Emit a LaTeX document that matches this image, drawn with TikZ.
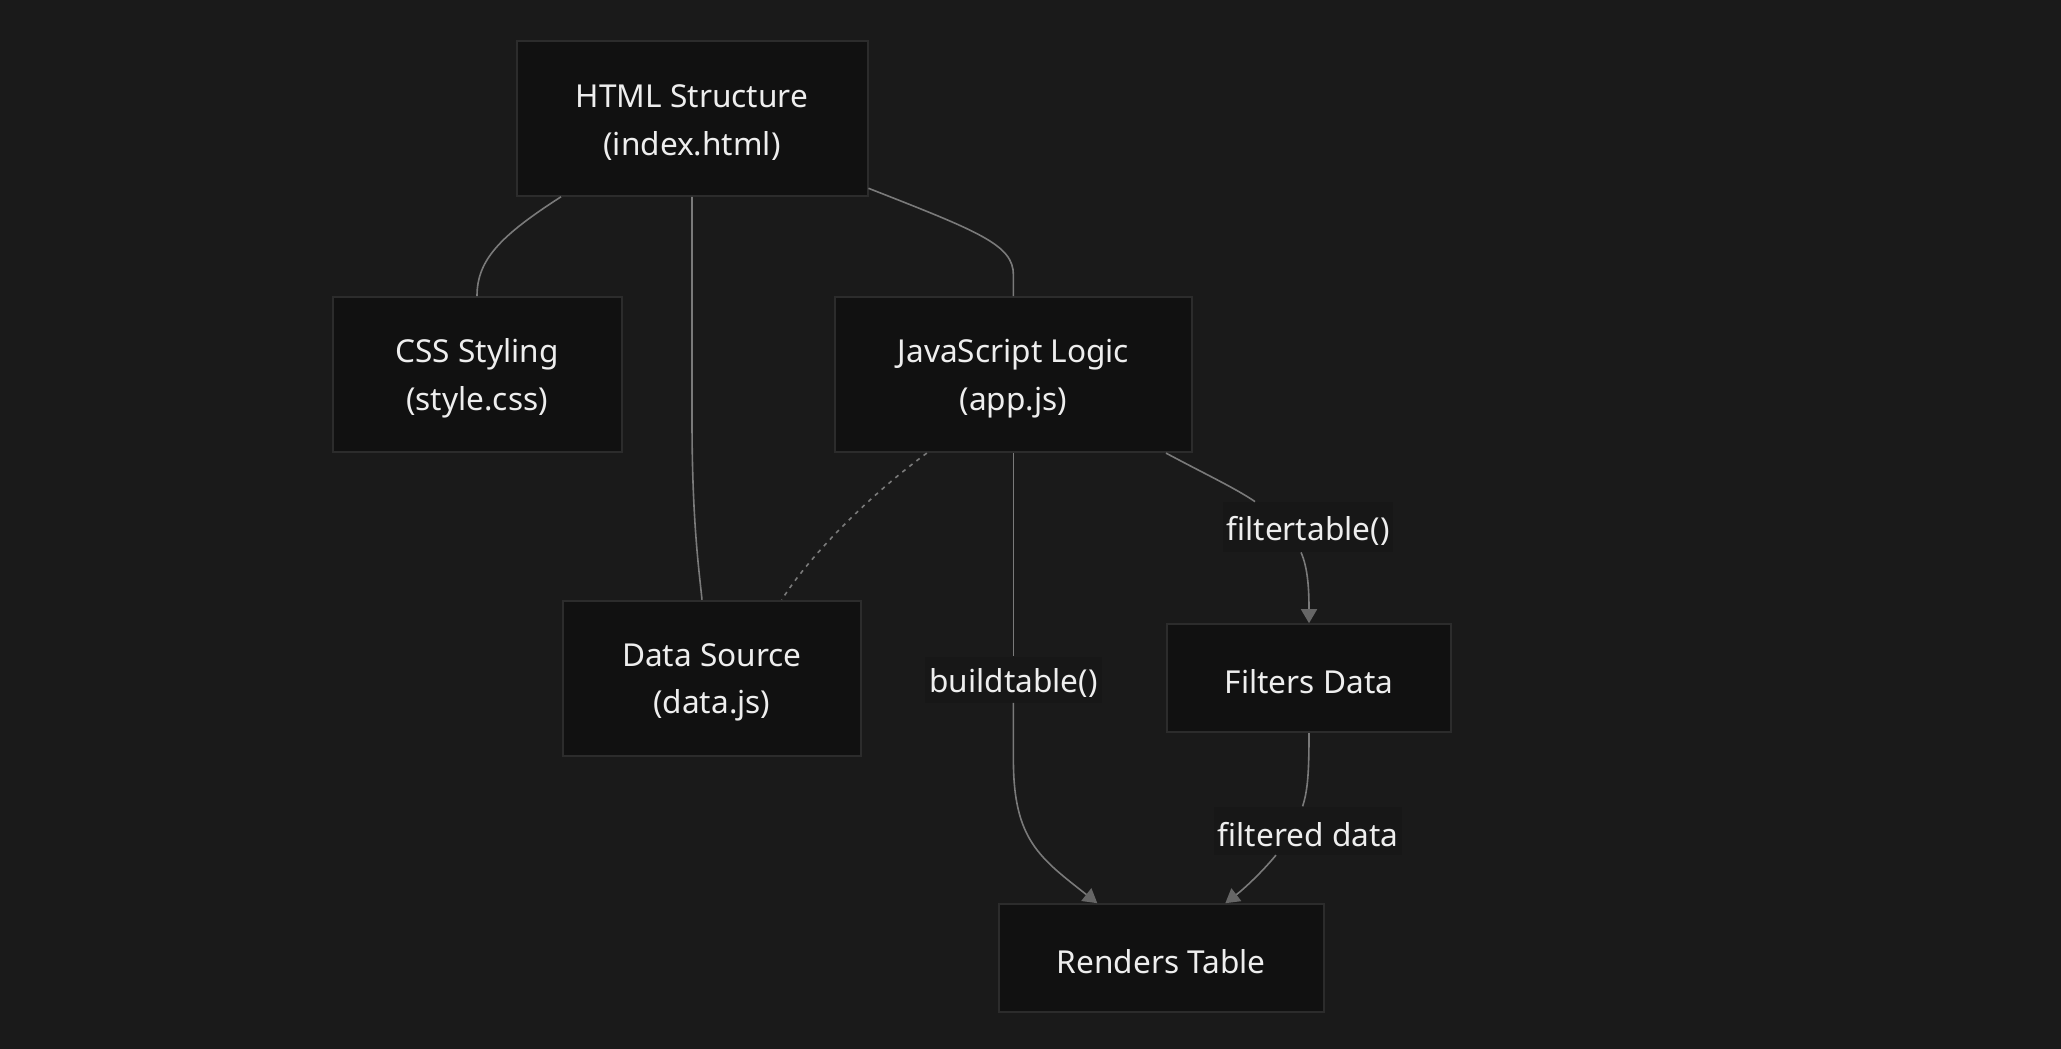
\documentclass[tikz,border=0pt]{standalone}
\usepackage{fontspec}
\setmainfont{Noto Sans}
\usetikzlibrary{arrows.meta}
\definecolor{bgc}{HTML}{1A1A1A}
\definecolor{boxfill}{HTML}{111111}
\definecolor{boxline}{HTML}{2C2C2C}
\definecolor{edgec}{HTML}{7A7A7A}
\definecolor{tipc}{HTML}{666666}
\definecolor{txtc}{HTML}{EEEEEE}
\definecolor{lblfill}{HTML}{171717}
\newcommand\mystrut{\rule{0pt}{15.5pt}}
\tikzset{
  box/.style={draw=boxline, line width=1pt, fill=boxfill, text=txtc, align=center,
    inner sep=0pt, font=\fontsize{15.8}{23.7}\selectfont},
  lbl/.style={fill=lblfill, text=txtc, inner sep=0pt, inner xsep=2pt,
    font=\fontsize{15.8}{23.7}\selectfont},
  link/.style={draw=edgec, line width=0.8pt},
  arr/.style={link, -{Triangle[length=7pt,width=8pt,color=tipc]}},
  dotlink/.style={draw=edgec, line width=0.8pt, dash pattern=on 2pt off 2.5pt}
}
\begin{document}
\begin{tikzpicture}[x=0.5pt,y=-0.5pt]
\fill[bgc] (0,0) rectangle (2061,1049);
\useasboundingbox (0,0) rectangle (2061,1049);

\node[box, minimum width=175.5pt, minimum height=77.5pt] (html) at (692,118.3) {\mystrut HTML Structure\\(index.html)};
\node[box, minimum width=144.5pt, minimum height=77.5pt] (css) at (477,374.6) {\mystrut CSS Styling\\(style.css)};
\node[box, minimum width=178.8pt, minimum height=77.5pt] (js) at (1013.4,374.6) {\mystrut JavaScript Logic\\(app.js)};
\node[box, minimum width=149.2pt, minimum height=77.5pt] (data) at (711.8,678.2) {\mystrut Data Source\\(data.js)};
\node[box, minimum width=142pt, minimum height=54pt] (filt) at (1309,678.2) {\mystrut Filters Data};
\node[box, minimum width=162.3pt, minimum height=54pt] (rend) at (1161.3,958.2) {\mystrut Renders Table};

\node[lbl, minimum height=25pt] (ft) at (1308,527) {\mystrut filtertable()};
\node[lbl, minimum height=23pt] (bt) at (1013.4,679.5) {\mystrut buildtable()};
\node[lbl, minimum height=24pt] (fd) at (1308,830.7) {\mystrut filtered data};

% HTML -> CSS
\draw[link] ([xshift=-65.5pt]html.south) .. controls (500,236) and (477,260) .. (css.north);
% HTML -> Data
\draw[link] (html.south) -- (692,420) .. controls (692,520) and (699,570) .. ([xshift=-4.9pt]data.north);
% HTML -> JS
\draw[link] ([yshift=-35pt]html.east) .. controls (980,232) and (1013.4,245) .. (1013.4,275) -- (js.north);
% JS -> Data (dotted)
\draw[dotlink] ([xshift=-43.3pt]js.south) .. controls (870,495) and (810,555) .. ([xshift=35pt]data.north);
% JS -> Renders via buildtable()
\draw[link] (js.south) -- (bt.north);
\draw[arr] (bt.south) -- (1013.4,760) .. controls (1013.4,840) and (1040,858) .. ([xshift=-32pt]rend.north);
% JS -> Filters via filtertable()
\draw[link] ([xshift=76.3pt]js.south) .. controls (1205,474) and (1235,488) .. ([xshift=-26.5pt]ft.north);
\draw[arr] ([xshift=-3.5pt]ft.south) .. controls (1308,568) and (1309,590) .. (filt.north);
% Filters -> Renders via filtered data
\draw[link] (filt.south) .. controls (1309,770) and (1308,790) .. ([xshift=-2.7pt]fd.north);
\draw[arr] ([xshift=-16pt]fd.south) .. controls (1262,872) and (1245,888) .. ([xshift=32pt]rend.north);
\end{tikzpicture}
\end{document}
